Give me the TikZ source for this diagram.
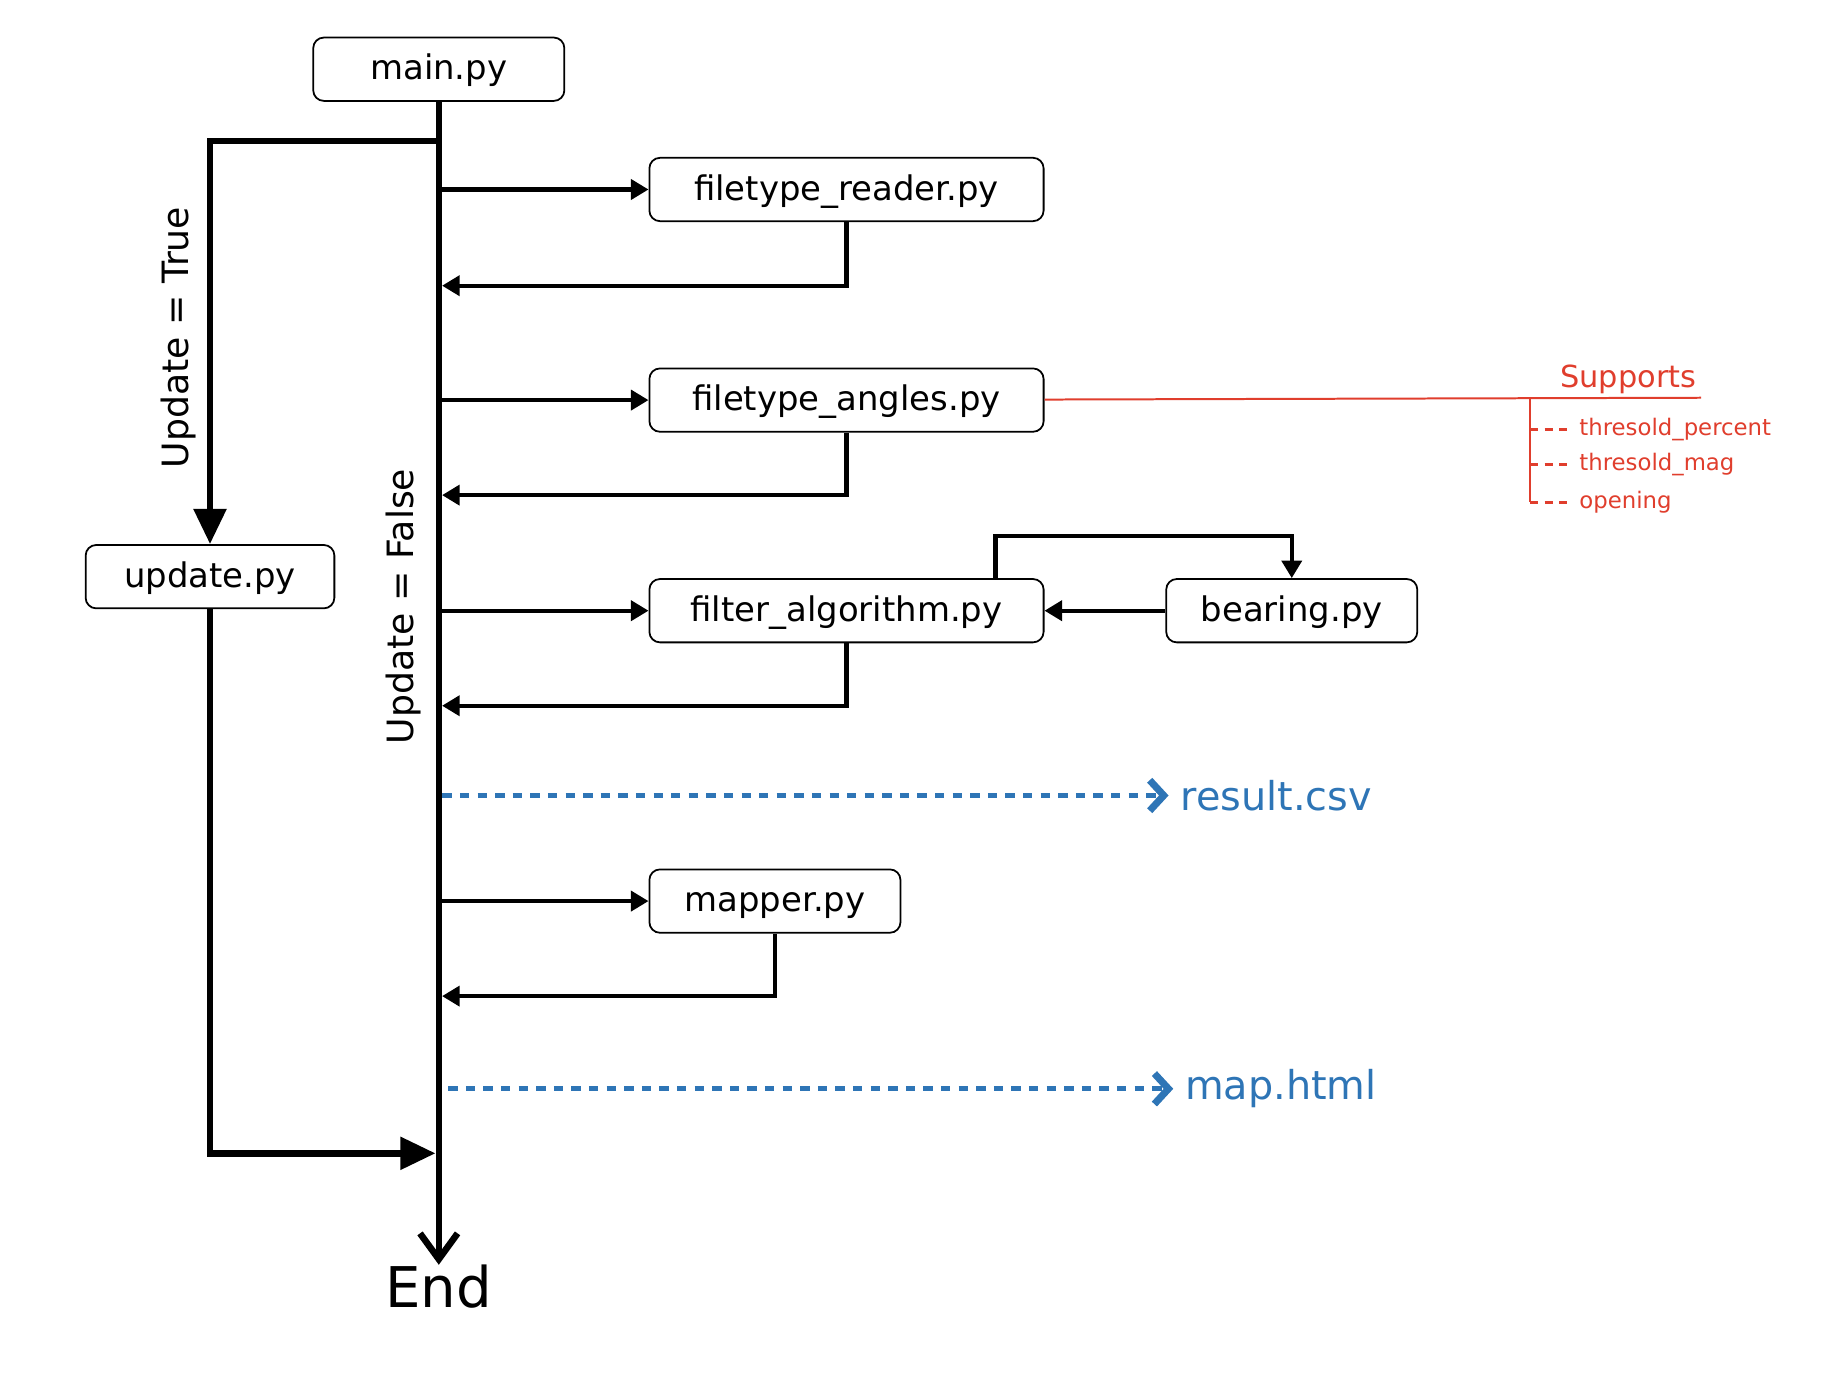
\documentclass[tikz,border=0pt]{standalone}
\usepackage{fontspec}
\setmainfont{DejaVu Sans}
\usepackage{xcolor}
\definecolor{sup-red}{HTML}{E03E2D}
\definecolor{out-blue}{HTML}{2E75B6}
\usepackage{tikz}
\usetikzlibrary{positioning}
\usetikzlibrary{arrows.meta}
\tikzset{box/.style = {draw, rounded corners=9bp, line width=1.5bp, align=center, text centered, minimum height=54bp, text height=24bp, text depth=6bp, font=\fontsize{29}{33}\selectfont}}
\tikzset{arr/.style = {line width=3.5bp, -{Triangle[length=15bp, width=17bp]}}}
\tikzset{back/.style = {arr, shorten >=2.8bp}}
\tikzset{bigarr/.style = {line width=5.6bp, -{Triangle[length=30bp, width=27bp]}}}
\tikzset{spine/.style = {line width=5.6bp, -{Straight Barb[length=22bp, width=32bp, line width=5.6bp]}}}
\tikzset{output/.style = {out-blue, line width=4bp, dash pattern=on 8bp off 7bp, -{Straight Barb[length=12bp, width=26bp, line width=6bp]}}}
\tikzset{outfile/.style = {out-blue, anchor=west, inner sep=0pt, inner xsep=10bp, font=\fontsize{34}{40}\selectfont}}
\tikzset{support/.style = {sup-red, line width=1.7bp}}
\tikzset{option/.style = {sup-red, anchor=west, inner sep=0pt, text height=14bp, text depth=4bp, font=\fontsize{19.5}{22}\selectfont}}
\tikzset{cond/.style = {rotate=90, font=\fontsize{31}{35}\selectfont}}

\begin{document}
\begin{tikzpicture}[x=1bp, y=-1bp, node distance=124bp]
\useasboundingbox (0,0) rectangle (1570,1176.2);

\node[box, minimum width=214bp] (main) at (374,59) {main.py};
\node[box, minimum width=336bp, below right=47bp and 71bp of main] (reader) {filetype\_reader.py};
\node[box, minimum width=336bp, below=of reader] (angles) {filetype\_angles.py};
\node[box, minimum width=336bp, below=of angles] (filter) {filter\_algorithm.py};
\node[box, minimum width=214bp, right=103bp of filter] (bearing) {bearing.py};
\node[box, minimum width=214bp, below=192bp of filter.south west, anchor=north west] (mapper) {mapper.py};
\node[box, minimum width=212bp, below=377bp of main, xshift=-195bp] (update) {update.py};
\node[inner sep=0pt, anchor=north, font=\fontsize{48}{54}\selectfont] (end) at (374,1078) {End};

% outputs written by main.py
\node[outfile] (result) at (996,678) {result.csv};
\node[outfile] (map) at (1000,928) {map.html};

% options of filetype_angles.py
\coordinate (supend) at (1450,339);
\coordinate (stem) at (1304,339);
\node[sup-red, inner sep=0pt, font=\fontsize{26}{30}\selectfont, above left=3bp and 4bp of supend] (supports) {Supports};
\node[option] (opt1) at (1346,366) {thresold\_percent};
\node[option, below=30bp of opt1.west, anchor=west] (opt2) {thresold\_mag};
\node[option, below=32bp of opt2.west, anchor=west] (opt3) {opening};

\coordinate (split) at (374,120);
\coordinate (join) at (374,983);

\draw[spine] (main) -- (end.north) node[pos=0.434, xshift=-9bp, cond, anchor=south] {Update = False};
\draw[bigarr] (split) -| (update) node[pos=0.744, xshift=-6bp, cond, anchor=south] {Update = True};
\draw[bigarr, shorten >=2.8bp] (update) |- (join);

\draw[arr]  (main |- reader) -- (reader);
\draw[back] (reader) -- ++(0,82) coordinate (r1) -- (main |- r1);
\draw[arr]  (main |- angles) -- (angles);
\draw[back] (angles) -- ++(0,81) coordinate (r2) -- (main |- r2);
\draw[arr]  (main |- filter) -- (filter);
\draw[back] (filter) -- ++(0,81) coordinate (r3) -- (main |- r3);
\draw[arr]  (bearing) -- (filter);
\draw[arr]  ([xshift=127bp]filter.north) -- ++(0,-36) -| (bearing);
\draw[arr]  (main |- mapper) -- (mapper);
\draw[back] (mapper) -- ++(0,81) coordinate (r4) -- (main |- r4);

\draw[output] ([xshift=3bp]main |- result) -- (result.west);
\draw[output] ([xshift=8bp]main |- map) -- (map.west);

\draw[support] (angles) -- (supend);
\draw[support, line width=2.2bp] (stem) -- (stem |- opt3.west);
\foreach \opt in {opt1, opt2, opt3}
  \draw[support, line width=2.8bp, dash pattern=on 7bp off 5.5bp] (stem |- \opt.west) -- ([xshift=-6bp]\opt.west);

\end{tikzpicture}
\end{document}
